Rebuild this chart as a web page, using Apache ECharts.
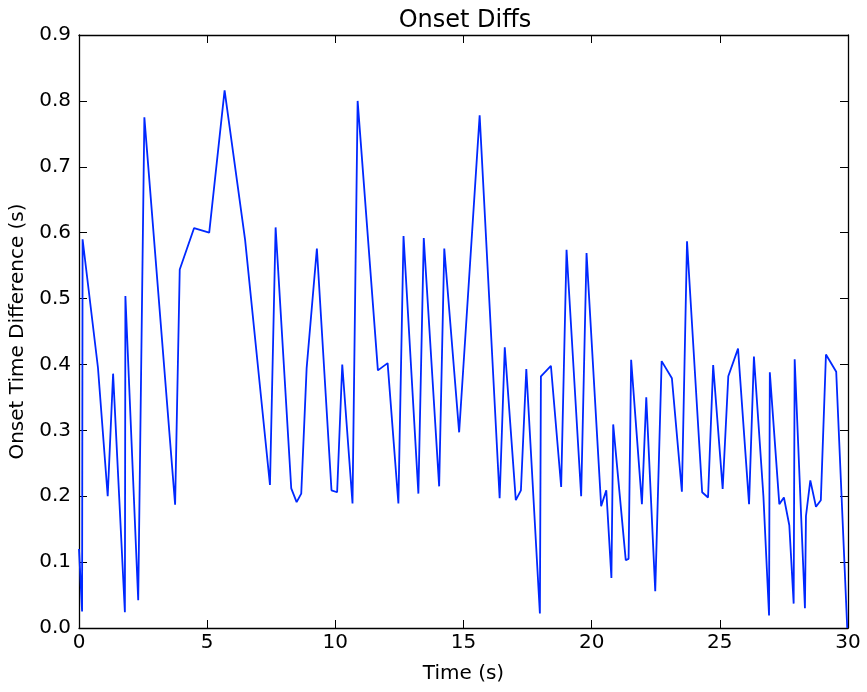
<!DOCTYPE html>
<html>
<head>
<meta charset="utf-8">
<script src="https://cdn.jsdelivr.net/npm/echarts@6/dist/echarts.min.js"></script>
<style>html,body{margin:0;padding:0;background:#fff;}#c{width:867px;height:692px;}</style>
</head>
<body>
<div id="c"></div>
<script>
const times = [0, 0.12, 0.14, 0.74, 1.12, 1.33, 1.79, 1.81, 2.31, 2.55, 3.75, 3.93, 4.49, 5.08, 5.68, 6.48, 7.45, 7.67, 8.28, 8.49, 8.67, 8.88, 9.28, 9.85, 10.07, 10.27, 10.67, 10.87, 11.66, 12.04, 12.46, 12.66, 13.24, 13.45, 14.05, 14.25, 14.83, 15.63, 16.41, 16.61, 17.04, 17.24, 17.45, 17.98, 18.02, 18.41, 18.81, 19.02, 19.59, 19.8, 20.37, 20.57, 20.77, 20.84, 21.33, 21.44, 21.54, 21.96, 22.13, 22.48, 22.73, 23.13, 23.52, 23.72, 24.31, 24.54, 24.74, 25.11, 25.33, 25.71, 26.14, 26.33, 26.7, 26.92, 26.95, 27.32, 27.5, 27.71, 27.88, 27.92, 28.32, 28.36, 28.53, 28.75, 28.94, 29.14, 29.54, 29.97];
const diffs = [0.12, 0.025, 0.59, 0.395, 0.20, 0.386, 0.024, 0.504, 0.042, 0.775, 0.187, 0.544, 0.607, 0.60, 0.816, 0.589, 0.217, 0.608, 0.212, 0.191, 0.204, 0.394, 0.576, 0.209, 0.206, 0.40, 0.189, 0.80, 0.391, 0.402, 0.189, 0.595, 0.204, 0.592, 0.215, 0.576, 0.297, 0.778, 0.197, 0.426, 0.194, 0.209, 0.393, 0.022, 0.382, 0.398, 0.214, 0.574, 0.20, 0.569, 0.185, 0.209, 0.076, 0.309, 0.103, 0.105, 0.407, 0.188, 0.35, 0.056, 0.405, 0.379, 0.207, 0.587, 0.206, 0.198, 0.399, 0.211, 0.382, 0.424, 0.188, 0.412, 0.2, 0.019, 0.388, 0.188, 0.198, 0.156, 0.037, 0.408, 0.030, 0.170, 0.224, 0.184, 0.194, 0.415, 0.389, 0.0];
const titleText = 'Onset Diffs';
const xLabel = 'Time (s)';
const yLabel = 'Onset Time Difference (s)';

const font = 'DejaVu Sans';
const chart = echarts.init(document.getElementById('c'), null, {renderer: 'canvas'});
const axisLine = {show: true, onZero: false, lineStyle: {color: '#000', width: 1.3}};
const tick = {show: true, inside: true, length: 8, lineStyle: {color: '#000', width: 1}};
chart.setOption({
  animation: false,
  backgroundColor: '#fff',
  title: {
    text: titleText, left: 460, top: 4, textAlign: 'center',
    textStyle: {fontFamily: font, fontSize: 24, fontWeight: 'normal', color: '#000'}
  },
  grid: {left: 79, right: 19, top: 35, bottom: 64, containLabel: false},
  xAxis: [{
    type: 'value', min: 0, max: 30, interval: 5, position: 'bottom',
    name: xLabel, nameLocation: 'middle', nameGap: 36,
    nameTextStyle: {fontFamily: font, fontSize: 20, color: '#000'},
    axisLine: axisLine, axisTick: tick, splitLine: {show: false},
    axisLabel: {fontFamily: font, fontSize: 20, color: '#000', margin: 5}
  }, {
    type: 'value', min: 0, max: 30, interval: 5, position: 'top',
    axisLine: axisLine, axisTick: tick, splitLine: {show: false}, axisLabel: {show: false}
  }],
  yAxis: [{
    type: 'value', min: 0, max: 0.9, interval: 0.1, position: 'left',
    name: yLabel, nameLocation: 'middle', nameGap: 47,
    nameTextStyle: {fontFamily: font, fontSize: 20, color: '#000'},
    axisLine: axisLine, axisTick: tick, splitLine: {show: false},
    axisLabel: {fontFamily: font, fontSize: 20, color: '#000', margin: 8,
      formatter: v => v.toFixed(1)}
  }, {
    type: 'value', min: 0, max: 0.9, interval: 0.1, position: 'right',
    axisLine: axisLine, axisTick: tick, splitLine: {show: false}, axisLabel: {show: false}
  }],
  series: [{
    type: 'line',
    data: times.map((t, i) => [t, diffs[i]]),
    showSymbol: false, symbol: 'none',
    lineStyle: {color: '#0028ff', width: 1.8},
    clip: true
  }]
});
</script>
</body>
</html>
